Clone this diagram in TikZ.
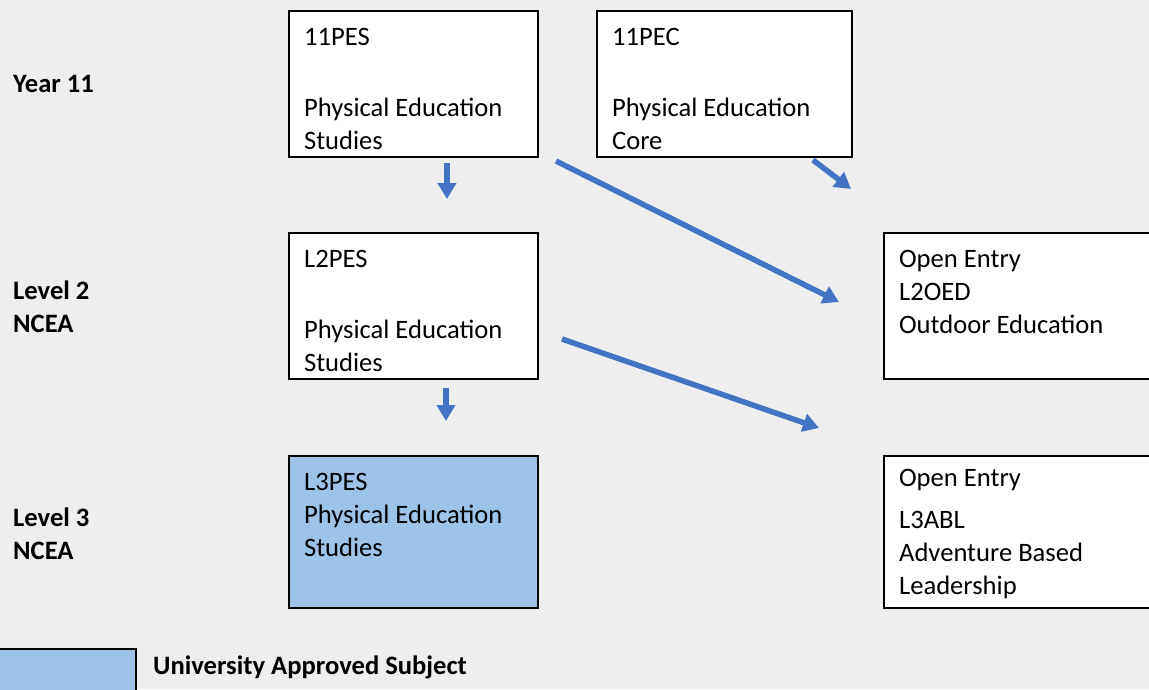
\documentclass[tikz,border=0pt]{standalone}
\usepackage{fontspec}
\setmainfont{Carlito}
\usetikzlibrary{arrows.meta}
\definecolor{uni-blue}{HTML}{9DC3E6}
\definecolor{path-blue}{HTML}{4472C4}
\definecolor{page-grey}{HTML}{EEEEEE}
\newcommand{\coursetext}[4]{\parbox[c][#2][t]{#1}{\parindent=0pt\leftskip=15pt\rule{0pt}{#3}#4}}
\tikzset{
  course/.style={draw=black, line width=2.2pt, fill=white, inner sep=0pt, anchor=north west},
  level/.style={font=\fontsize{26.6}{33}\selectfont\bfseries, inner sep=0pt, align=left, anchor=west},
  pathway/.style={path-blue, line width=5.5pt, -{Triangle[length=16pt,width=18pt]}},
}

\begin{document}
\begin{tikzpicture}[x=1pt, y=-1pt, font=\fontsize{26.6}{33}\selectfont]
\useasboundingbox (0,0) rectangle (1149,689);
\clip (0,0) rectangle (1149,689);
\fill[page-grey] (0,0) rectangle (1149,689);
% year and level labels
\node[level] (year 11) at (13,84) {Year 11};
\node[level] (level 2) at (13,306.5) {Level 2\\NCEA};
\node[level] (level 3) at (13,534) {Level 3\\NCEA};
% courses
\node[course] (11PES) at (288,10) {\coursetext{249pt}{146pt}{34.5pt}{11PES\\[38pt]Physical Education\\Studies}};
\node[course] (11PEC) at (596,10) {\coursetext{255pt}{146pt}{34.5pt}{11PEC\\[38pt]Physical Education\\Core}};
\node[course] (L2PES) at (288,232) {\coursetext{249pt}{146pt}{34.5pt}{L2PES\\[38pt]Physical Education\\Studies}};
\node[course] (L2OED) at (883,232) {\coursetext{300pt}{146pt}{34.5pt}{Open Entry\\L2OED\\Outdoor Education}};
\node[course, fill=uni-blue] (L3PES) at (288,455) {\coursetext{249pt}{152pt}{34.5pt}{L3PES\\Physical Education\\Studies}};
\node[course] (L3ABL) at (883,455) {\coursetext{300pt}{152pt}{30.5pt}{Open Entry\\[9pt]L3ABL\\Adventure Based\\Leadership}};
% pathways
\coordinate (11PES down) at (447,163);
\coordinate (L2PES top) at (447,199);
\coordinate (L2PES down) at (446,388);
\coordinate (L3PES top) at (446,421);
\coordinate (11PES side) at (556,161);
\coordinate (L2OED side) at (839,302);
\coordinate (L2PES side) at (562,339);
\coordinate (L3ABL side) at (819,428);
\coordinate (11PEC side) at (813,160);
\coordinate (11PEC end) at (851,189);
\draw[pathway] (11PES down) -- (L2PES top);
\draw[pathway] (L2PES down) -- (L3PES top);
\draw[pathway] (11PES side) -- (L2OED side);
\draw[pathway] (L2PES side) -- (L3ABL side);
\draw[pathway] (11PEC side) -- (11PEC end);
% key
\node[course, fill=uni-blue, minimum width=160pt, minimum height=60pt, anchor=north east] (key) at (137,648) {};
\node[level] (university approved) at (153,667) {University Approved Subject};
\end{tikzpicture}
\end{document}
